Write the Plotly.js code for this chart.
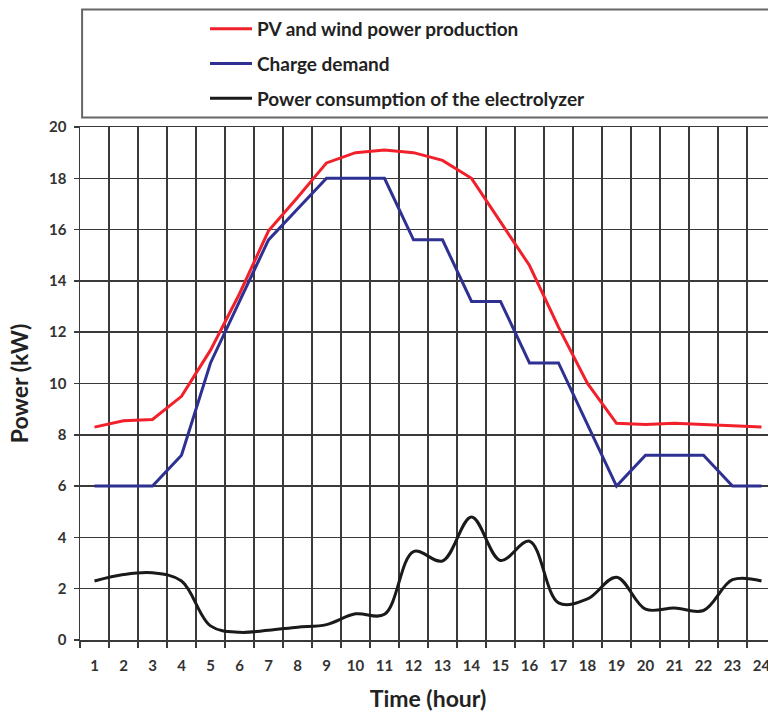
<!DOCTYPE html>
<html>
<head>
<meta charset="utf-8">
<script src="https://cdn.plot.ly/plotly-3.0.1.min.js"></script>
<style>
  html, body { margin: 0; padding: 0; overflow: hidden; background: #fff; }
  #chart { width: 790px; height: 716px; }
</style>
</head>
<body>
<div id="chart"></div>
<script>
const hours = [1,2,3,4,5,6,7,8,9,10,11,12,13,14,15,16,17,18,19,20,21,22,23,24];
const pvWind = [8.3,8.55,8.6,9.5,11.3,13.5,15.95,17.25,18.6,19.0,19.1,19.0,18.7,18.0,16.3,14.6,12.2,10.0,8.45,8.4,8.45,8.4,8.35,8.3];
const chargeDemand = [6,6,6,7.2,10.8,13.2,15.6,16.8,18,18,18,15.6,15.6,13.2,13.2,10.8,10.8,8.4,6,7.2,7.2,7.2,6,6];
const electrolyzer = [2.3,2.55,2.62,2.3,0.55,0.3,0.38,0.5,0.6,1.02,1.0,3.45,3.08,4.8,3.1,3.85,1.45,1.6,2.45,1.2,1.25,1.15,2.35,2.3];
const gridPositions = [0.5,1.5,2.5,3.5,4.5,5.5,6.5,7.5,8.5,9.5,10.5,11.5,12.5,13.5,14.5,15.5,16.5,17.5,18.5,19.5,20.5,21.5,22.5,23.5,24.5];
const yTicks = [0,2,4,6,8,10,12,14,16,18,20];
const names = ['PV and wind power production','Charge demand','Power consumption of the electrolyzer'];

const font = 'Lato, "Open Sans", sans-serif';
const gridColor = '#3a3a3a';

const traces = [
  {x: hours, y: pvWind, name: names[0], mode: 'lines', legendgroup: 'a',
   line: {color: '#f2202a', width: 3}},
  {x: hours, y: chargeDemand, name: names[1], mode: 'lines', legendgroup: 'b',
   line: {color: '#2e3192', width: 3}},
  {x: hours, y: electrolyzer, name: names[2], mode: 'lines', legendgroup: 'c',
   line: {color: '#1a1a1a', width: 3, shape: 'spline', smoothing: 1}}
];

const layout = {
  width: 790, height: 716,
  margin: {l: 80, r: 14, t: 127, b: 76},
  paper_bgcolor: '#fff', plot_bgcolor: '#fff',
  font: {family: font, color: '#333'},
  showlegend: true,
  legend: {
    x: 0.1796, xanchor: 'left', yref: 'container', y: 0.986, yanchor: 'top',
    bgcolor: 'rgba(0,0,0,0)', borderwidth: 0, itemwidth: 42,
    font: {family: font, size: 19, color: '#222', weight: 'bold'},
    tracegroupgap: 7, traceorder: 'grouped'
  },
  xaxis: {
    range: [0.5, 24.5], tickmode: 'array', tickvals: hours,
    ticktext: hours.map(String), showgrid: false, ticks: '',
    zeroline: false, showline: true, linecolor: gridColor, linewidth: 1.5, mirror: true,
    tickfont: {family: font, size: 15, color: '#333', weight: 'bold'},
    ticklabelstandoff: 11,
    minor: {tickmode: 'array', tickvals: gridPositions, showgrid: true, gridcolor: gridColor,
            gridwidth: 1.5, ticks: 'outside', ticklen: 6, tickcolor: gridColor, tickwidth: 1.5},
    title: {text: 'Time (hour)', font: {family: font, size: 23, color: '#222', weight: 'bold'}, standoff: 18}
  },
  yaxis: {
    range: [0, 20], tickmode: 'array', tickvals: yTicks,
    showgrid: true, gridcolor: gridColor, gridwidth: 1.5,
    ticks: 'outside', ticklen: 5, tickcolor: gridColor, tickwidth: 1.5,
    zeroline: false, showline: true, linecolor: gridColor, linewidth: 1.5, mirror: true,
    tickfont: {family: font, size: 15, color: '#333', weight: 'bold'},
    ticklabelstandoff: 4,
    title: {text: 'Power (kW)', font: {family: font, size: 23, color: '#222', weight: 'bold'}, standoff: 14}
  },
  shapes: [
    {type: 'rect', xref: 'paper', yref: 'paper', x0: 0.003, x1: 1.05, y0: 1.0185, y1: 1.229,
     line: {color: '#666', width: 2}, fillcolor: 'rgba(0,0,0,0)', layer: 'above'}
  ]
};

Plotly.newPlot('chart', traces, layout, {displayModeBar: false, staticPlot: true});
</script>
</body>
</html>
